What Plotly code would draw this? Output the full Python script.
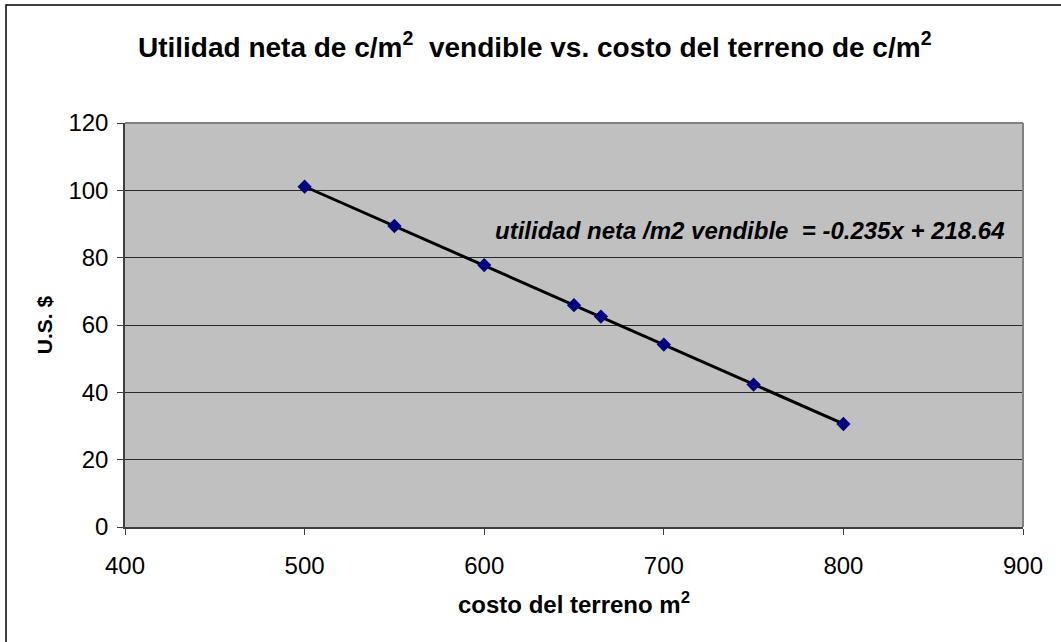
import numpy as np
import plotly.graph_objects as go

# Costo del terreno por m2 vs. utilidad neta por m2 vendible
costo_terreno = [500, 550, 600, 650, 665, 700, 750, 800]
utilidad_neta = [101.1, 89.4, 77.8, 65.9, 62.5, 54.2, 42.3, 30.6]

# Linear trendline coefficients
pendiente = -0.235
intercepto = 218.64

x_ticks = [400, 500, 600, 700, 800, 900]
y_ticks = [0, 20, 40, 60, 80, 100, 120]

font_family = "Liberation Sans, Arial, sans-serif"

x_line = np.array([min(costo_terreno), max(costo_terreno)], dtype=float)
y_line = pendiente * x_line + intercepto

fig = go.Figure()

fig.add_trace(go.Scatter(
    x=x_line, y=y_line, mode="lines",
    line=dict(color="black", width=3),
    hoverinfo="skip", showlegend=False,
))

fig.add_trace(go.Scatter(
    x=costo_terreno, y=utilidad_neta, mode="markers",
    marker=dict(symbol="diamond", size=11, color="#000080",
                line=dict(color="#000080", width=0)),
    showlegend=False,
))

fig.add_annotation(
    x=0.982, y=0.735, xref="paper", yref="paper",
    xanchor="right", yanchor="middle", showarrow=False,
    text=f"<b><i>utilidad neta /m2 vendible  = {pendiente}x + {intercepto}</i></b>",
    font=dict(family=font_family, size=24, color="black"),
)

# Outer chart frame
fig.add_shape(
    type="rect", xref="paper", yref="paper",
    x0=-0.1325, x1=1.06, y0=-0.32, y1=1.292,
    line=dict(color="black", width=1.5), fillcolor="rgba(0,0,0,0)",
    layer="below",
)

fig.update_layout(
    width=1061, height=642,
    margin=dict(l=125, r=38, t=123, b=115),
    paper_bgcolor="white",
    plot_bgcolor="#C0C0C0",
    title=dict(
        text="<b>Utilidad neta de c/m<sup>2</sup>  vendible vs. costo del terreno de c/m<sup>2</sup></b>",
        x=0.504, xanchor="center", y=0.927, yanchor="middle",
        font=dict(family=font_family, size=28, color="black"),
    ),
    xaxis=dict(
        range=[400, 900], tickvals=x_ticks, ticks="outside", ticklen=6,
        tickcolor="#404040", showline=True, linecolor="#404040", linewidth=1.5,
        showgrid=False, zeroline=False, ticklabelstandoff=10,
        tickfont=dict(family=font_family, size=24, color="black"),
        title=dict(text="<b>costo del terreno m<sup>2</sup></b>",
                   font=dict(family=font_family, size=24, color="black"),
                   standoff=19),
    ),
    yaxis=dict(
        range=[0, 120], tickvals=y_ticks, ticks="outside", ticklen=6,
        tickcolor="#404040", showline=True, linecolor="#404040", linewidth=1.5,
        showgrid=True, gridcolor="#2a2a2a", gridwidth=1, zeroline=False,
        ticklabelstandoff=4,
        tickfont=dict(family=font_family, size=24, color="black"),
        title=dict(text="<b>U.S. $</b>",
                   font=dict(family=font_family, size=21, color="black"),
                   standoff=10),
    ),
)

# Gray border on top and right of the plot area
fig.add_shape(type="line", xref="paper", yref="paper", x0=0, x1=1, y0=1, y1=1,
              line=dict(color="#808080", width=2))
fig.add_shape(type="line", xref="paper", yref="paper", x0=1, x1=1, y0=0, y1=1,
              line=dict(color="#808080", width=2))

fig.write_html("out.html")
